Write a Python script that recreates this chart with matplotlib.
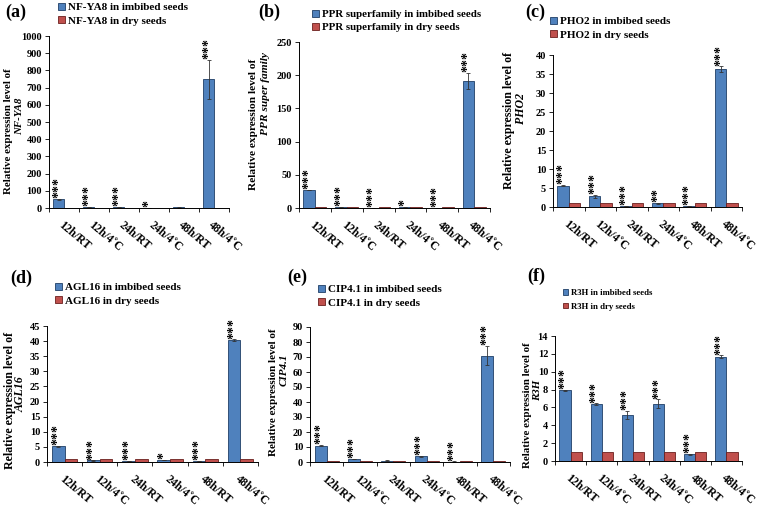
import matplotlib.pyplot as plt
import numpy as np

plt.rcParams['font.family'] = ['Liberation Serif', 'DejaVu Serif']
plt.rcParams['font.weight'] = 'bold'

conditions = ['12h/RT', '12h/4˚C', '24h/RT', '24h/4˚C', '48h/RT', '48h/4˚C']

# (a) NF-YA8
nfya8_imb = [50, 5, 5, 2, 3, 748]
nfya8_err = [4, 1, 1, 0.5, 0.5, 115]
nfya8_dry = [1, 1, 1, 1, 1, 1]
nfya8_stars = ['***', '***', '***', '*', '', '***']

# (b) PPR superfamily
ppr_imb = [27, 1.5, 0.5, 1, 0.3, 191]
ppr_err = [0.5, 0.2, 0.1, 0.1, 0.05, 12]
ppr_dry = [1, 1, 1, 1, 1, 1]
ppr_stars = ['***', '***', '***', '*', '***', '***']

# (c) PHO2
pho2_imb = [5.6, 2.8, 0.3, 1.0, 0.3, 36.2]
pho2_err = [0.15, 0.3, 0.05, 0.1, 0.05, 0.8]
pho2_dry = [1, 1, 1, 1, 1, 1]
pho2_stars = ['***', '***', '***', '**', '***', '***']

# (d) AGL16
agl16_imb = [5.2, 0.5, 0.4, 0.6, 0.3, 40.3]
agl16_err = [0.1, 0.05, 0.05, 0.05, 0.05, 0.3]
agl16_dry = [1, 1, 1, 1, 1, 1]
agl16_stars = ['***', '***', '***', '*', '***', '***']

# (e) CIP4.1
cip_imb = [11, 2, 1, 3.8, 0.3, 71]
cip_err = [0.3, 0.2, 0.1, 0.2, 0.05, 6.5]
cip_dry = [1, 1, 1, 1, 1, 1]
cip_stars = ['***', '***', '', '***', '***', '***']

# (f) R3H
r3h_imb = [7.9, 6.35, 5.2, 6.4, 0.75, 11.7]
r3h_err = [0.05, 0.1, 0.45, 0.5, 0.05, 0.15]
r3h_dry = [1, 1, 1, 1, 1, 1]
r3h_stars = ['***', '***', '***', '***', '***', '***']

BLUE = '#4F81BD'
RED = '#C0504D'
W, H = 760, 511

fig = plt.figure(figsize=(7.6, 5.11), dpi=100)


def px_axes(left, right, top, bottom):
    return fig.add_axes([left / W, 1 - bottom / H, (right - left) / W, (bottom - top) / H])


def ftext(x, y, s, **kw):
    return fig.text(x / W, 1 - y / H, s, **kw)


def panel(box, imb, err, dry, stars, ymax, ystep, gene, name, letter, letter_xy,
          leg_xy, ylab, legfs=8.0, legsp=0.35, ylfs=8.2):
    ax = px_axes(*box)
    x = np.arange(len(conditions))
    bw = 0.36
    ax.bar(x - bw / 2, imb, bw, color=BLUE, edgecolor='#1F3F66', linewidth=0.6,
           yerr=err, error_kw=dict(ecolor='#333333', elinewidth=0.6, capsize=1.5, capthick=0.6))
    ax.bar(x + bw / 2, dry, bw, color=RED, edgecolor='#6B1F1D', linewidth=0.6)
    for i, s in enumerate(stars):
        if s:
            ax.text(x[i] - bw / 2, imb[i] + err[i] + ymax * 0.005, s, rotation=90,
                    ha='center', va='bottom', fontsize=10, fontweight='bold')
    ax.set_xlim(-0.5, len(conditions) - 0.5)
    ax.set_ylim(0, ymax)
    ax.set_yticks(np.arange(0, ymax + ystep / 2, ystep))
    ax.set_xticks(np.arange(len(conditions) + 1) - 0.5)
    ax.set_xticklabels([])
    ax.set_xticks(x, minor=True)
    ax.set_xticklabels(conditions, minor=True, rotation=-40, ha='left', va='top',
                       rotation_mode='anchor', fontsize=8.5, fontweight='bold')
    ax.tick_params(axis='x', which='minor', length=0, pad=8)
    ax.tick_params(axis='x', which='major', length=3, width=0.6, direction='out')
    ax.tick_params(axis='y', length=3, width=0.6, labelsize=7.5, pad=2)
    for lab in ax.get_yticklabels():
        lab.set_fontweight('bold')
    for sp in ['top', 'right']:
        ax.spines[sp].set_visible(False)
    for sp in ['left', 'bottom']:
        ax.spines[sp].set_linewidth(0.7)
    ftext(letter_xy[0], letter_xy[1], letter, fontsize=13, fontweight='bold',
          ha='left', va='center')
    fig.legend(handles=[ax.patches[0], ax.patches[len(conditions)]],
               labels=[gene + ' in imbibed seeds', gene + ' in dry seeds'],
               loc='upper left', bbox_to_anchor=(leg_xy[0] / W, 1 - leg_xy[1] / H),
               frameon=False, fontsize=legfs, handlelength=0.6, handleheight=0.6,
               handletextpad=0.3, labelspacing=legsp, borderpad=0, borderaxespad=0)
    x1, y1, x2, y2 = ylab
    ftext(x1, y1, 'Relative expression level of', rotation=90,
          ha='center', va='center', fontsize=ylfs, fontweight='bold')
    ftext(x2, y2, name, rotation=90, ha='center', va='center',
          fontsize=ylfs, fontweight='bold', style='italic')
    return ax


panel((49, 229, 36, 208), nfya8_imb, nfya8_err, nfya8_dry, nfya8_stars, 1000, 100,
      'NF-YA8', 'NF-YA8', '(a)', (5, 12), (58, 3), (9, 131, 20, 116), ylfs=7.8)
panel((299, 490, 42, 208), ppr_imb, ppr_err, ppr_dry, ppr_stars, 250, 50,
      'PPR superfamily', 'PPR super family', '(b)', (258, 12), (312, 10),
      (254, 124, 266, 94), legfs=7.8, ylfs=8.2)
panel((553, 742, 55, 207), pho2_imb, pho2_err, pho2_dry, pho2_stars, 40, 5,
      'PHO2', 'PHO2', '(c)', (525, 12), (550, 17), (509, 120, 521, 108), ylfs=8.6)
panel((47, 258, 326, 462), agl16_imb, agl16_err, agl16_dry, agl16_stars, 45, 5,
      'AGL16', 'AGL16', '(d)', (10, 278), (55, 283), (10, 400, 21, 394), ylfs=8.6)
panel((310, 510, 327, 462), cip_imb, cip_err, cip_dry, cip_stars, 90, 10,
      'CIP4.1', 'CIP4.1', '(e)', (287, 277), (318, 285), (273, 392, 284, 370), ylfs=8.0)
panel((555, 742, 336, 461), r3h_imb, r3h_err, r3h_dry, r3h_stars, 14, 2,
      'R3H', 'R3H', '(f)', (527, 276), (563, 289), (528, 405, 538, 390),
      legfs=6.3, legsp=0.65, ylfs=7.8)

fig.savefig('out.png', dpi=100)
